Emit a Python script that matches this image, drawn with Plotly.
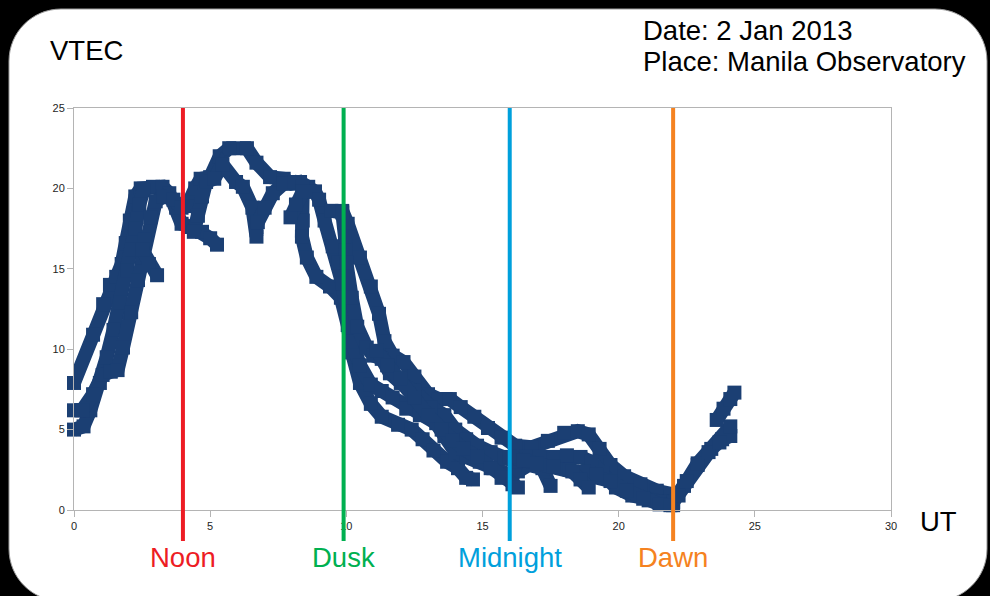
import plotly.graph_objects as go

# ---- VTEC satellite passes: universal time (h) and vertical TEC (TECU) ----
pass_01_ut = [0.0, 0.7, 1.07, 1.32, 1.55, 1.75, 1.9, 2.05, 2.25, 2.45, 2.9, 3.25, 3.5, 3.75, 3.95, 4.3, 4.7, 5.0, 5.25]
pass_01_vtec = [7.9, 10.9, 12.8, 14.0, 14.5, 15.3, 16.6, 18.0, 19.5, 20.0, 20.1, 20.1, 19.7, 18.8, 17.8, 17.6, 17.3, 16.9, 16.5]

pass_02_ut = [0.0, 0.35, 0.6, 0.95, 1.2, 1.45, 1.7, 1.95, 2.13, 2.25, 2.4, 2.55]
pass_02_vtec = [5.0, 5.2, 6.2, 7.9, 9.5, 11.2, 12.9, 14.9, 16.2, 17.5, 19.0, 19.9]

pass_03_ut = [0.0, 0.3, 0.7, 1.05, 1.35, 1.6, 1.8, 2.1, 2.35, 2.5, 2.6, 2.8, 3.0, 3.3, 3.65, 3.95,
              4.15, 4.45, 4.65, 5.0, 5.35, 5.7, 6.35, 6.7, 7.2, 7.7, 8.0, 8.3, 8.6, 8.85]
pass_03_vtec = [6.2, 6.2, 7.2, 8.4, 8.6, 8.7, 10.1, 12.3, 14.3, 15.7, 16.8, 18.2, 19.2, 19.5, 19.3, 18.8,
                18.9, 20.0, 20.6, 20.7, 22.0, 22.5, 22.5, 21.6, 20.7, 20.6, 20.3, 20.4, 20.1, 19.8]

pass_04_ut = [2.5, 2.75, 3.05]
pass_04_vtec = [16.2, 15.3, 14.6]

pass_05_ut = [4.4, 4.55, 4.7, 4.85, 5.15, 5.45, 5.95, 6.2, 6.55, 6.7, 6.7]
pass_05_vtec = [17.3, 18.3, 19.5, 20.4, 20.6, 21.5, 20.4, 20.1, 18.8, 17.6, 17.0]

pass_06_ut = [6.75, 7.0, 7.3, 7.7, 8.1, 8.4, 8.4, 8.37, 8.55, 8.9, 9.4, 9.8, 10.05, 10.2, 10.5, 10.9,
              11.3, 11.9, 12.4, 12.8, 13.2, 13.7, 14.1, 14.4, 14.65]
pass_06_vtec = [17.9, 18.8, 19.7, 20.3, 20.4, 20.1, 18.0, 17.0, 15.7, 14.5, 13.9, 13.2, 11.5, 9.8, 7.9, 6.6,
                5.8, 5.3, 5.0, 4.4, 3.7, 3.0, 2.6, 2.0, 1.9]

pass_07_ut = [7.95, 8.15, 8.4]
pass_07_vtec = [18.2, 19.0, 19.8]

pass_08_ut = [8.85, 9.0, 9.2, 9.5, 9.7, 9.85, 10.0, 10.2, 10.5, 10.9, 11.3, 11.7, 12.2, 12.7, 13.3, 13.6,
              14.0, 14.4, 14.9, 15.4, 16.0, 16.3, 16.7, 17.2, 17.5]
pass_08_vtec = [19.8, 19.3, 18.0, 16.4, 15.4, 14.1, 12.5, 10.5, 9.0, 7.8, 7.4, 7.0, 6.3, 5.9, 5.4, 4.6,
                3.6, 3.3, 3.0, 2.6, 2.2, 2.4, 2.8, 2.6, 1.5]

pass_09_ut = [9.45, 9.85, 10.05, 10.5, 10.9, 11.2, 11.4, 11.7, 12.1, 12.5, 13.0, 13.4, 13.8, 14.2, 14.7,
              15.2, 15.7, 16.2, 16.8, 17.4, 18.0, 18.5, 18.9, 19.3, 19.7, 20.2, 20.8, 21.4, 21.9]
pass_09_vtec = [18.6, 18.6, 17.8, 15.7, 13.9, 12.2, 10.5, 9.6, 9.2, 8.3, 7.2, 6.9, 6.9, 6.4, 5.8,
                5.1, 4.5, 4.0, 3.9, 4.3, 4.8, 4.9, 4.7, 3.8, 2.8, 2.1, 1.6, 1.2, 1.0]

pass_10_ut = [9.45, 9.85, 9.95, 10.0, 10.2, 10.4, 10.75, 11.0, 11.3, 11.6, 12.0, 12.5, 13.1, 13.6, 14.0,
              14.4, 14.8, 15.3, 15.8, 16.2, 16.6, 17.1, 17.6, 18.1, 18.6, 19.0, 19.4, 19.9, 20.5, 21.1,
              21.6, 22.0, 22.4, 22.9, 23.4, 23.8, 24.1]
pass_10_vtec = [18.6, 18.5, 17.0, 15.4, 13.2, 11.4, 10.1, 9.6, 9.4, 8.5, 7.9, 7.4, 6.4, 5.9, 5.0,
                4.4, 4.0, 3.6, 3.2, 3.0, 3.3, 3.3, 3.3, 3.4, 3.3, 3.0, 2.3, 1.4, 0.9, 0.6,
                0.5, 0.5, 1.5, 2.8, 3.8, 4.4, 4.6]

pass_11_ut = [11.1, 11.5, 12.0, 12.5, 13.0, 13.5, 13.9, 14.3, 14.8, 15.3, 15.7, 16.1, 16.3]
pass_11_vtec = [9.9, 9.0, 8.2, 7.0, 5.9, 5.0, 4.3, 3.8, 3.3, 2.6, 2.0, 1.6, 1.4]

pass_12_ut = [16.0, 16.5, 17.0, 17.6, 18.2, 18.7, 19.2, 19.7, 20.3, 20.9, 21.5, 22.0]
pass_12_vtec = [3.3, 3.1, 2.9, 2.7, 2.5, 2.4, 2.2, 1.8, 1.2, 0.7, 0.35, 0.3]

pass_13_ut = [18.3, 18.6, 18.9]
pass_13_vtec = [2.4, 1.9, 1.4]

pass_14_ut = [21.9, 22.2, 22.5, 22.9, 23.3, 23.7, 24.1]
pass_14_vtec = [0.3, 0.9, 1.8, 2.9, 3.6, 4.2, 5.2]

pass_15_ut = [23.6, 23.85, 24.1, 24.25]
pass_15_vtec = [5.6, 6.3, 6.9, 7.3]

passes = [
    (pass_01_ut, pass_01_vtec), (pass_02_ut, pass_02_vtec), (pass_03_ut, pass_03_vtec),
    (pass_04_ut, pass_04_vtec), (pass_05_ut, pass_05_vtec), (pass_06_ut, pass_06_vtec),
    (pass_07_ut, pass_07_vtec), (pass_08_ut, pass_08_vtec), (pass_09_ut, pass_09_vtec),
    (pass_10_ut, pass_10_vtec), (pass_11_ut, pass_11_vtec), (pass_12_ut, pass_12_vtec),
    (pass_13_ut, pass_13_vtec), (pass_14_ut, pass_14_vtec), (pass_15_ut, pass_15_vtec),
]

# Local-time markers
event_names = ["Noon", "Dusk", "Midnight", "Dawn"]
event_ut = [4.0, 9.9, 16.0, 22.0]
event_colors = ["#ed1c24", "#00b050", "#00a0dc", "#f58220"]

x_ticks = [0, 5, 10, 15, 20, 25, 30]
y_ticks = [0, 5, 10, 15, 20, 25]

# ---- page geometry (pixels) ----
W, H = 990, 596
ML, MR, MT, MB = 74, 99, 108, 86
PW, PH = W - ML - MR, H - MT - MB


def fx(px):
    return (px - ML) / PW


def fy(py):
    return (H - MB - py) / PH


TRACK_COLOR = "#1b3f73"
TRACK_W = 14
FONT = "Liberation Sans, Arial, sans-serif"

fig = go.Figure()
for ut, vtec in passes:
    fig.add_trace(go.Scatter(
        x=ut, y=vtec, mode="lines+markers",
        line=dict(color=TRACK_COLOR, width=TRACK_W),
        marker=dict(symbol="square", size=TRACK_W, color=TRACK_COLOR, line=dict(width=0)),
        cliponaxis=False, hoverinfo="skip", showlegend=False,
    ))


# Rounded white card behind the chart
def rounded_card(l, t, r, b, rad):
    k = 0.5523 * rad
    pts = [
        ("M", [(l + rad, t)]),
        ("L", [(r - rad, t)]),
        ("C", [(r - rad + k, t), (r, t + rad - k), (r, t + rad)]),
        ("L", [(r, b - rad)]),
        ("C", [(r, b - rad + k), (r - rad + k, b), (r - rad, b)]),
        ("L", [(l + rad, b)]),
        ("C", [(l + rad - k, b), (l, b - rad + k), (l, b - rad)]),
        ("L", [(l, t + rad)]),
        ("C", [(l, t + rad - k), (l + rad - k, t), (l + rad, t)]),
    ]
    s = ""
    for cmd, coords in pts:
        s += cmd + " " + " ".join(f"{fx(x):.5f},{fy(y):.5f}" for x, y in coords) + " "
    return s + "Z"


shapes = [dict(
    type="path", xref="paper", yref="paper", layer="below",
    path=rounded_card(9, 9, 987, 601, 52),
    fillcolor="white", line=dict(color="#9a9a9a", width=1),
)]

for t, c in zip(event_ut, event_colors):
    shapes.append(dict(
        type="line", xref="x", yref="paper", x0=t, x1=t,
        y0=fy(541), y1=1.0, layer="above",
        line=dict(color=c, width=4),
    ))

TXT = 27.5
annotations = [
    dict(text="VTEC", x=fx(48), y=fy(50), xanchor="left", yanchor="middle",
         font=dict(size=TXT, color="black", family=FONT)),
    dict(text="Date: 2 Jan 2013", x=fx(641), y=fy(30), xanchor="left", yanchor="middle",
         font=dict(size=TXT, color="black", family=FONT)),
    dict(text="Place: Manila Observatory", x=fx(641), y=fy(62), xanchor="left", yanchor="middle",
         font=dict(size=TXT, color="black", family=FONT)),
    dict(text="UT", x=fx(918), y=fy(521), xanchor="left", yanchor="middle",
         font=dict(size=TXT, color="black", family=FONT)),
]
for name, t, c in zip(event_names, event_ut, event_colors):
    annotations.append(dict(
        text=name, x=t, xref="x", y=fy(557), yref="paper",
        xanchor="center", yanchor="middle", showarrow=False,
        font=dict(size=TXT, color=c, family=FONT),
    ))
for a in annotations:
    a.setdefault("xref", "paper")
    a.setdefault("yref", "paper")
    a["showarrow"] = False

axis_common = dict(
    showgrid=False, zeroline=False, showline=True, linecolor="#b4b4b4", linewidth=1,
    mirror=True, ticks="outside", ticklen=6, tickcolor="#b4b4b4", tickwidth=1,
    tickfont=dict(size=11, color="#1e1e1e", family=FONT),
)

fig.update_layout(
    width=W, height=H,
    margin=dict(l=ML, r=MR, t=MT, b=MB, pad=0),
    paper_bgcolor="black", plot_bgcolor="white",
    shapes=shapes, annotations=annotations,
    xaxis=dict(range=[0, 30], tickvals=x_ticks, ticktext=[str(v) for v in x_ticks], **axis_common),
    yaxis=dict(range=[0, 25], tickvals=y_ticks, ticktext=[str(v) for v in y_ticks], **axis_common),
    hovermode=False, showlegend=False,
)

fig.write_html("out.html")
